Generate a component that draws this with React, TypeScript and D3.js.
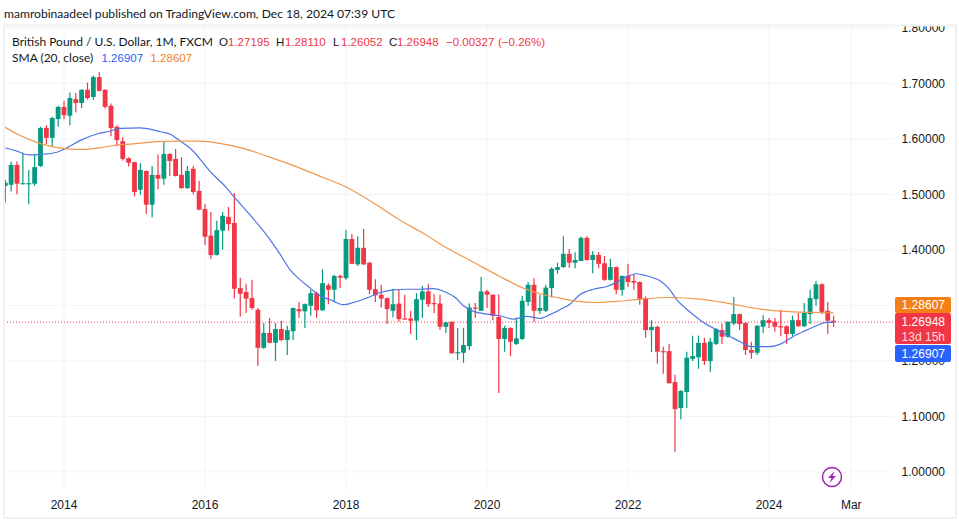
import React from "react";
import * as d3 from "d3";

const W = 959, H = 523;
const FONT = "Lato, 'Open Sans', sans-serif";
const NUMFONT = "'Liberation Sans', Arial, sans-serif";

const opens = [1.516,1.518,1.554,1.520,1.520,1.520,1.552,1.621,1.603,1.637,1.659,1.643,1.673,1.666,1.690,1.677,1.713,1.690,1.661,1.623,1.597,1.566,1.559,1.509,1.543,1.482,1.536,1.529,1.574,1.565,1.536,1.512,1.547,1.507,1.474,1.426,1.391,1.435,1.460,1.449,1.331,1.324,1.313,1.292,1.223,1.250,1.232,1.257,1.237,1.253,1.293,1.289,1.299,1.322,1.291,1.336,1.328,1.353,1.349,1.420,1.374,1.404,1.377,1.329,1.319,1.313,1.290,1.303,1.276,1.276,1.272,1.310,1.325,1.304,1.303,1.261,1.270,1.214,1.214,1.226,1.296,1.290,1.325,1.319,1.279,1.239,1.259,1.230,1.239,1.306,1.337,1.290,1.290,1.331,1.364,1.369,1.393,1.377,1.380,1.422,1.382,1.391,1.376,1.346,1.369,1.328,1.353,1.344,1.342,1.313,1.255,1.261,1.217,1.217,1.161,1.114,1.143,1.203,1.206,1.232,1.199,1.230,1.255,1.243,1.267,1.284,1.268,1.219,1.214,1.261,1.273,1.270,1.262,1.262,1.248,1.273,1.262,1.284,1.311,1.338,1.290,1.27195];
const highs = [1.527,1.560,1.560,1.576,1.545,1.573,1.623,1.626,1.641,1.661,1.670,1.685,1.684,1.691,1.703,1.716,1.722,1.691,1.665,1.626,1.604,1.568,1.560,1.557,1.544,1.552,1.573,1.596,1.575,1.583,1.568,1.552,1.552,1.525,1.483,1.469,1.453,1.469,1.478,1.503,1.350,1.339,1.346,1.295,1.268,1.277,1.268,1.272,1.263,1.296,1.306,1.303,1.328,1.325,1.365,1.340,1.355,1.355,1.436,1.429,1.425,1.438,1.378,1.347,1.337,1.314,1.330,1.328,1.319,1.290,1.322,1.335,1.339,1.320,1.319,1.270,1.271,1.259,1.259,1.303,1.304,1.351,1.328,1.320,1.320,1.263,1.260,1.277,1.317,1.342,1.349,1.319,1.337,1.369,1.377,1.425,1.402,1.396,1.424,1.425,1.398,1.396,1.389,1.384,1.370,1.354,1.375,1.355,1.343,1.316,1.273,1.263,1.225,1.230,1.174,1.146,1.216,1.245,1.245,1.241,1.241,1.259,1.267,1.271,1.315,1.285,1.269,1.234,1.264,1.282,1.277,1.277,1.292,1.264,1.281,1.286,1.304,1.328,1.344,1.340,1.306,1.2811];
const lows = [1.486,1.506,1.501,1.519,1.483,1.516,1.550,1.592,1.587,1.623,1.637,1.626,1.649,1.657,1.672,1.672,1.687,1.656,1.606,1.588,1.562,1.551,1.497,1.500,1.465,1.459,1.510,1.518,1.534,1.533,1.511,1.511,1.501,1.472,1.409,1.384,1.390,1.401,1.435,1.312,1.279,1.286,1.292,1.190,1.221,1.231,1.199,1.235,1.210,1.237,1.277,1.259,1.281,1.277,1.290,1.302,1.306,1.331,1.346,1.374,1.371,1.373,1.320,1.306,1.296,1.266,1.278,1.270,1.275,1.248,1.237,1.277,1.297,1.286,1.255,1.250,1.212,1.201,1.196,1.219,1.277,1.290,1.295,1.273,1.141,1.216,1.208,1.228,1.237,1.299,1.270,1.284,1.288,1.314,1.357,1.368,1.368,1.367,1.380,1.380,1.358,1.367,1.344,1.345,1.320,1.317,1.333,1.328,1.301,1.241,1.215,1.194,1.176,1.158,1.035,1.093,1.114,1.199,1.185,1.192,1.179,1.228,1.230,1.241,1.264,1.255,1.210,1.203,1.210,1.250,1.259,1.252,1.244,1.230,1.244,1.261,1.261,1.266,1.299,1.284,1.248,1.26052];
const closes = [1.522,1.554,1.520,1.521,1.521,1.550,1.621,1.603,1.639,1.659,1.644,1.675,1.666,1.690,1.675,1.713,1.688,1.659,1.621,1.599,1.565,1.558,1.505,1.545,1.482,1.536,1.529,1.574,1.561,1.534,1.512,1.543,1.505,1.473,1.424,1.391,1.436,1.462,1.447,1.330,1.321,1.312,1.295,1.223,1.250,1.232,1.257,1.237,1.255,1.295,1.289,1.302,1.322,1.291,1.340,1.328,1.353,1.350,1.420,1.375,1.404,1.374,1.328,1.318,1.312,1.293,1.302,1.275,1.275,1.272,1.311,1.325,1.302,1.303,1.261,1.269,1.213,1.215,1.228,1.296,1.294,1.325,1.319,1.281,1.239,1.259,1.234,1.240,1.308,1.337,1.290,1.295,1.332,1.366,1.369,1.393,1.377,1.382,1.422,1.382,1.391,1.375,1.346,1.369,1.328,1.353,1.342,1.341,1.311,1.255,1.261,1.216,1.216,1.159,1.112,1.145,1.205,1.208,1.232,1.199,1.234,1.257,1.243,1.270,1.284,1.266,1.219,1.214,1.263,1.273,1.268,1.261,1.261,1.248,1.273,1.262,1.286,1.313,1.338,1.288,1.272,1.26948];

const blueIdx = [0,2,4,6,8.8,10.5,12.7,15.6,17.8,19.5,23,25,26.4,28,29.8,31.7,34.9,37.7,38.8,41.7,44.5,46.8,48.5,50.2,51.9,53.6,55.3,57.6,59.3,61.5,63.8,66.1,68.3,70.6,72.9,74.9,76.6,78,79.7,82,84.2,86.5,88.8,91,92.7,94.4,96.1,97.8,100.1,102.4,103.8,105.8,107.5,109.2,111.5,112.9,114.3,116.3,118.3,120.8,123.4,125.1,127,130,132.2,134.2,136.4,138.1,139.8,141];
const blueVal = [1.585,1.579,1.572,1.573,1.577,1.585,1.598,1.610,1.615,1.620,1.621,1.618,1.614,1.610,1.597,1.582,1.542,1.512,1.498,1.463,1.427,1.392,1.364,1.346,1.331,1.317,1.310,1.301,1.305,1.313,1.323,1.328,1.329,1.329,1.330,1.324,1.314,1.299,1.289,1.284,1.281,1.275,1.280,1.276,1.283,1.292,1.302,1.319,1.329,1.334,1.340,1.352,1.357,1.353,1.344,1.331,1.310,1.290,1.273,1.257,1.243,1.234,1.225,1.225,1.231,1.244,1.255,1.263,1.269,1.26907];
const orangeIdx = [0,2,4.8,7.6,10.5,13.3,16.1,19,21.8,25.8,29.2,33.1,36.5,40.5,44.5,48.5,53,58,63,67.2,71.2,75.1,79.7,84.2,88.2,91.6,94.4,96.7,100.7,104.1,108.1,113.2,118.3,122.8,128.5,134.2,137.5,141];
const orangeVal = [1.622,1.610,1.597,1.588,1.583,1.582,1.585,1.590,1.592,1.596,1.597,1.597,1.593,1.584,1.570,1.555,1.536,1.514,1.483,1.454,1.430,1.404,1.378,1.352,1.331,1.319,1.313,1.308,1.305,1.307,1.311,1.314,1.311,1.304,1.293,1.288,1.287,1.28607];

const priceTicks = [1.0,1.1,1.2,1.3,1.4,1.5,1.6,1.7,1.8];
const timeTicks = [10,34,58,82,106,130,144];
const timeLabels = ["2014","2016","2018","2020","2022","2024","Mar"];

const y = d3.scaleLinear().domain([1.0, 1.8]).range([471, 29]);
const yAxis = d3.scaleLinear().domain([1.0, 1.8]).range([471.9, 27.9]);
const x = d3.scaleLinear().domain([10, 130]).range([64, 769]);
const UP = "#089981", DOWN = "#F23645";

function path(idx: number[], val: number[]) {
  return d3.line<number>()
    .x((d) => x(d))
    .y((_, i) => y(val[i]))
    .curve(d3.curveMonotoneX)(idx) as string;
}

function Tag({ top, h, fill, children }: any) {
  return <g><rect x={895} y={top} width={56} height={h} rx={2} fill={fill} />{children}</g>;
}

export default function App() {
  const last = closes[closes.length - 1];
  return (
    <svg width={W} height={H} style={{ position: "absolute", left: 0, top: 0, background: "#fff", fontFamily: FONT }}>
      <defs><clipPath id="plotc"><rect x={4} y={26} width={951} height={492} /></clipPath></defs>
      <rect x={0} y={0} width={W} height={H} fill="#fff" />
      <g clipPath="url(#plotc)">
        {priceTicks.map((p) => <line key={p} x1={4} x2={893} y1={yAxis(p)} y2={yAxis(p)} stroke="#f0f3fa" />)}
        {timeTicks.map((t) => <line key={t} x1={x(t)} x2={x(t)} y1={26} y2={490} stroke="#f0f3fa" />)}
        <line x1={4} x2={895} y1={y(last)} y2={y(last)} stroke={DOWN} strokeDasharray="1 2" />
        {opens.map((o, i) => {
          const c = closes[i], col = c >= o ? UP : DOWN;
          const top = y(Math.max(o, c)), bot = y(Math.min(o, c));
          return <g key={i}>
            <line x1={x(i)} x2={x(i)} y1={y(highs[i])} y2={y(lows[i])} stroke={col} strokeWidth={1.2} />
            <rect x={x(i) - 2.4} width={4.8} y={top} height={Math.max(bot - top, 1.2)} fill={col} />
          </g>;
        })}
        <path d={path(blueIdx, blueVal)} fill="none" stroke="#4E74E4" strokeWidth={1.2} />
        <path d={path(orangeIdx, orangeVal)} fill="none" stroke="#F0994D" strokeWidth={1.2} />
        {priceTicks.map((p) => <text key={p} x={945} y={yAxis(p) + 4.3} fontSize={12} fontFamily={NUMFONT} textAnchor="end" fill="#131722">{p.toFixed(5)}</text>)}
      </g>
      <rect x={4} y={25.5} width={952} height={492.5} fill="none" stroke="#eef0f4" strokeWidth={2} />
      {timeTicks.map((t, i) => <text key={t} x={x(t)} y={509} fontSize={12} fontFamily={NUMFONT} textAnchor="middle" fill="#131722">{timeLabels[i]}</text>)}

      <text x={4} y={18} fontSize={12.1} fill="#131722">mamrobinaadeel published on TradingView.com, Dec 18, 2024 07:39 UTC</text>
      <g fontSize={12}>
        <text x={12} y={45.5} fill="#131722">British Pound / U.S. Dollar, 1M, FXCM</text>
        <g fontFamily={NUMFONT} fontSize={11.5}>
          <text x={219} y={45.5} fill="#131722">O</text><text x={228} y={45.5} fill={DOWN}>1.27195</text>
          <text x={276} y={45.5} fill="#131722">H</text><text x={285} y={45.5} fill={DOWN}>1.28110</text>
          <text x={333} y={45.5} fill="#131722">L</text><text x={341} y={45.5} fill={DOWN}>1.26052</text>
          <text x={389} y={45.5} fill="#131722">C</text><text x={397} y={45.5} fill={DOWN}>1.26948</text>
          <text x={446} y={45.5} fill={DOWN}>−0.00327</text><text x={498} y={45.5} fill={DOWN}>(−0.26%)</text>
        </g>
        <text x={12} y={61.5} fill="#131722">SMA (20, close)</text>
        <g fontFamily={NUMFONT} fontSize={11.5}>
          <text x={101.5} y={61.5} fill="#2962FF">1.26907</text>
          <text x={150.5} y={61.5} fill="#F57F17">1.28607</text>
        </g>
      </g>

      <g fontSize={12} fontFamily={NUMFONT} fill="#fff" textAnchor="end">
        <Tag top={297} h={16} fill="#F57F17"><text x={945} y={309.3} fill="#fff">1.28607</text></Tag>
        <Tag top={313} h={31} fill={DOWN}>
          <text x={945} y={326} fill="#fff">1.26948</text>
          <text x={945} y={340.5} fill="#fff" fillOpacity={0.85}>13d 15h</text>
        </Tag>
        <Tag top={345} h={17} fill="#2962FF"><text x={945} y={358} fill="#fff">1.26907</text></Tag>
      </g>

      <g transform="translate(832,477)">
        <circle r={9.5} fill="#fff" stroke="#9C27B0" strokeWidth={1.5} />
        <path d="M2.5,-6 L-4,1 L-0.5,1 L-2.5,6 L4,-1 L0.5,-1 Z" fill="#9C27B0" />
      </g>
    </svg>
  );
}
